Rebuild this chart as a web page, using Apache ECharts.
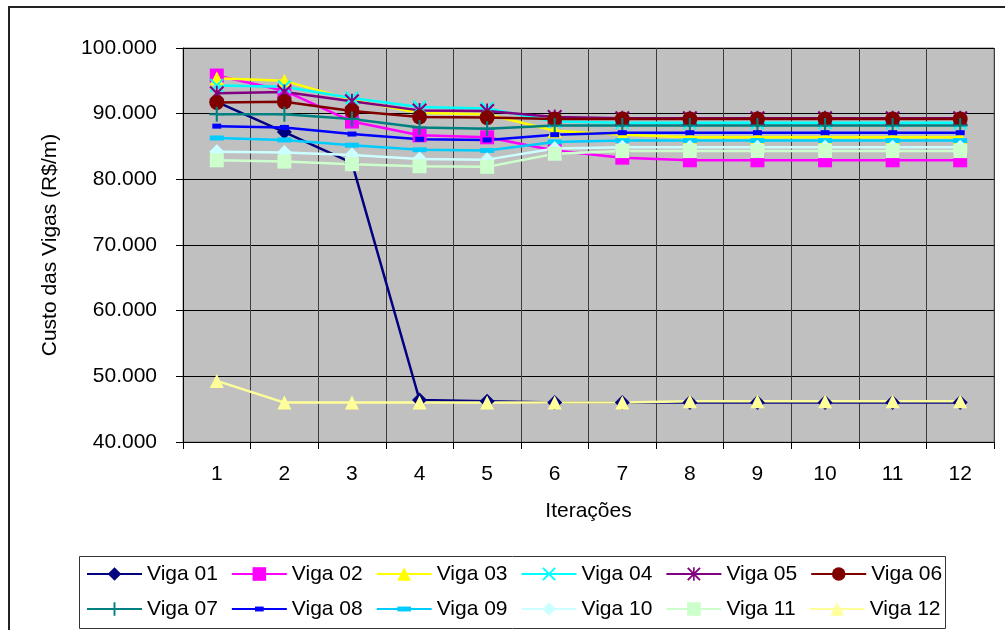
<!DOCTYPE html>
<html>
<head>
<meta charset="utf-8">
<script src="https://cdn.jsdelivr.net/npm/echarts@6/dist/echarts.min.js"></script>
<style>
  html, body { margin: 0; padding: 0; background: #fff; }
  #chart { width: 1005px; height: 630px; }
</style>
</head>
<body>
<div id="chart"></div>
<script>
// Custo das vigas por iteração
const iteracoes = ['1', '2', '3', '4', '5', '6', '7', '8', '9', '10', '11', '12'];
const nomes = ['Viga 01', 'Viga 02', 'Viga 03', 'Viga 04', 'Viga 05', 'Viga 06',
               'Viga 07', 'Viga 08', 'Viga 09', 'Viga 10', 'Viga 11', 'Viga 12'];

const viga01 = [91800, 87200, 82500, 46400, 46200, 46000, 46000, 46000, 46000, 46000, 46000, 46000];
const viga02 = [95800, 93500, 88800, 86700, 86400, 84400, 83300, 82900, 82900, 82900, 82900, 82900];
const viga03 = [95400, 95000, 92100, 90100, 89900, 87400, 86800, 86400, 86400, 86400, 86400, 86400];
const viga04 = [94300, 94100, 92400, 91000, 90800, 88800, 88600, 88600, 88600, 88600, 88600, 88600];
const viga05 = [93100, 93300, 91900, 90500, 90400, 89500, 89300, 89300, 89300, 89300, 89300, 89300];
const viga06 = [91700, 91800, 90400, 89500, 89400, 89200, 89200, 89200, 89200, 89200, 89200, 89200];
const viga07 = [89900, 89900, 89200, 87900, 87700, 88200, 88200, 88200, 88200, 88200, 88200, 88200];
const viga08 = [88100, 87900, 86900, 86100, 86000, 86800, 87100, 87100, 87100, 87100, 87100, 87100];
const viga09 = [86300, 86000, 85200, 84500, 84400, 85700, 85900, 85900, 85900, 85900, 85900, 85900];
const viga10 = [84200, 84100, 83700, 83100, 83000, 84700, 84900, 84900, 84900, 84900, 84900, 84900];
const viga11 = [82900, 82700, 82300, 82000, 81900, 83900, 84300, 84300, 84300, 84300, 84300, 84300];
const viga12 = [49300, 46000, 46000, 46000, 46000, 46000, 46000, 46200, 46200, 46200, 46200, 46200];

const valores = [viga01, viga02, viga03, viga04, viga05, viga06,
                 viga07, viga08, viga09, viga10, viga11, viga12];

const cores = ['#000080', '#FF00FF', '#FFFF00', '#00FFFF', '#800080', '#800000',
               '#008080', '#0000FF', '#00CCFF', '#CCFFFF', '#CCFFCC', '#FFFF99'];

// marker shapes (filled paths; stroke-like marks are built from thin bars)
const xis = 'path://M0,1 L1,0 L10,9 L9,10 Z M9,0 L10,1 L1,10 L0,9 Z';
const asterisco = 'path://M0,1 L1,0 L10,9 L9,10 Z M9,0 L10,1 L1,10 L0,9 Z M4.4,0 L5.6,0 L5.6,10 L4.4,10 Z';
const mais = 'path://M4.3,0 L5.7,0 L5.7,10 L4.3,10 Z M0,4.3 L10,4.3 L10,5.7 L0,5.7 Z';
const tracoCurto = 'path://M0,0 L0,0 M14,14 L14,14 M2.5,4.5 L11.5,4.5 L11.5,9.5 L2.5,9.5 Z';
const tracoLongo = 'path://M0,0 L0,0 M14,14 L14,14 M0,4.5 L14,4.5 L14,9.5 L0,9.5 Z';

const simbolos = ['diamond', 'rect', 'triangle', xis, asterisco, 'circle',
                  mais, tracoCurto, tracoLongo, 'diamond', 'rect', 'triangle'];
const tamanhos = [15, 14, 14, 14, 15, 15, 15, 14, 14, 15, 14, 14];

const fonte = 'Arial, "Liberation Sans", sans-serif';

function milhar(v) {
  return String(v).replace(/\B(?=(\d{3})+(?!\d))/g, '.');
}

const series = nomes.map((nome, i) => ({
  name: nome,
  type: 'line',
  data: valores[i],
  symbol: simbolos[i],
  symbolSize: tamanhos[i],
  showAllSymbol: true,
  lineStyle: { color: cores[i], width: 2.5 },
  itemStyle: { color: cores[i] },
  emphasis: { disabled: true },
  animation: false
}));

const legendaBase = {
  orient: 'horizontal',
  left: 86,
  itemWidth: 55,
  itemHeight: 17,
  itemGap: 13,
  padding: 0,
  selectedMode: false,
  textStyle: { fontSize: 21, fontFamily: fonte, color: '#000', lineHeight: 24 }
};

const chart = echarts.init(document.getElementById('chart'), null, { renderer: 'canvas' });

chart.setOption({
  animation: false,
  backgroundColor: '#fff',
  grid: {
    left: 183, top: 48, width: 811, height: 394,
    show: true, backgroundColor: '#C0C0C0', borderColor: '#808080', borderWidth: 1
  },
  legend: [
    Object.assign({}, legendaBase, { data: nomes.slice(0, 6), top: 562 }),
    Object.assign({}, legendaBase, { data: nomes.slice(6), top: 597 })
  ],
  xAxis: {
    type: 'category',
    data: iteracoes,
    boundaryGap: true,
    name: 'Iterações',
    nameLocation: 'middle',
    nameGap: 59,
    nameTextStyle: { fontSize: 21, fontFamily: fonte, color: '#000' },
    axisLine: { show: true, lineStyle: { color: '#000', width: 1 } },
    axisTick: { show: true, length: 7, lineStyle: { color: '#000' } },
    axisLabel: { margin: 22, fontSize: 21, fontFamily: fonte, color: '#000' },
    splitLine: { show: true, lineStyle: { color: '#3c3c3c', width: 1 } }
  },
  yAxis: {
    type: 'value',
    min: 40000,
    max: 100000,
    interval: 10000,
    name: 'Custo das Vigas (R$/m)',
    nameLocation: 'middle',
    nameGap: 122,
    nameTextStyle: { fontSize: 21, fontFamily: fonte, color: '#000' },
    axisLine: { show: true, lineStyle: { color: '#000', width: 1 } },
    axisTick: { show: true, length: 7, lineStyle: { color: '#000' } },
    axisLabel: { margin: 26, fontSize: 21, fontFamily: fonte, color: '#000', formatter: milhar },
    splitLine: { show: true, lineStyle: { color: '#000', width: 1 } }
  },
  graphic: [
    {
      type: 'rect', silent: true, z: 0,
      shape: { x: 9, y: 7, width: 1010, height: 640 },
      style: { fill: null, stroke: '#222', lineWidth: 2 }
    },
    {
      type: 'rect', silent: true, z: 0,
      shape: { x: 79.5, y: 556.5, width: 866, height: 72 },
      style: { fill: null, stroke: '#333', lineWidth: 1 }
    }
  ],
  series: series
});
</script>
</body>
</html>
